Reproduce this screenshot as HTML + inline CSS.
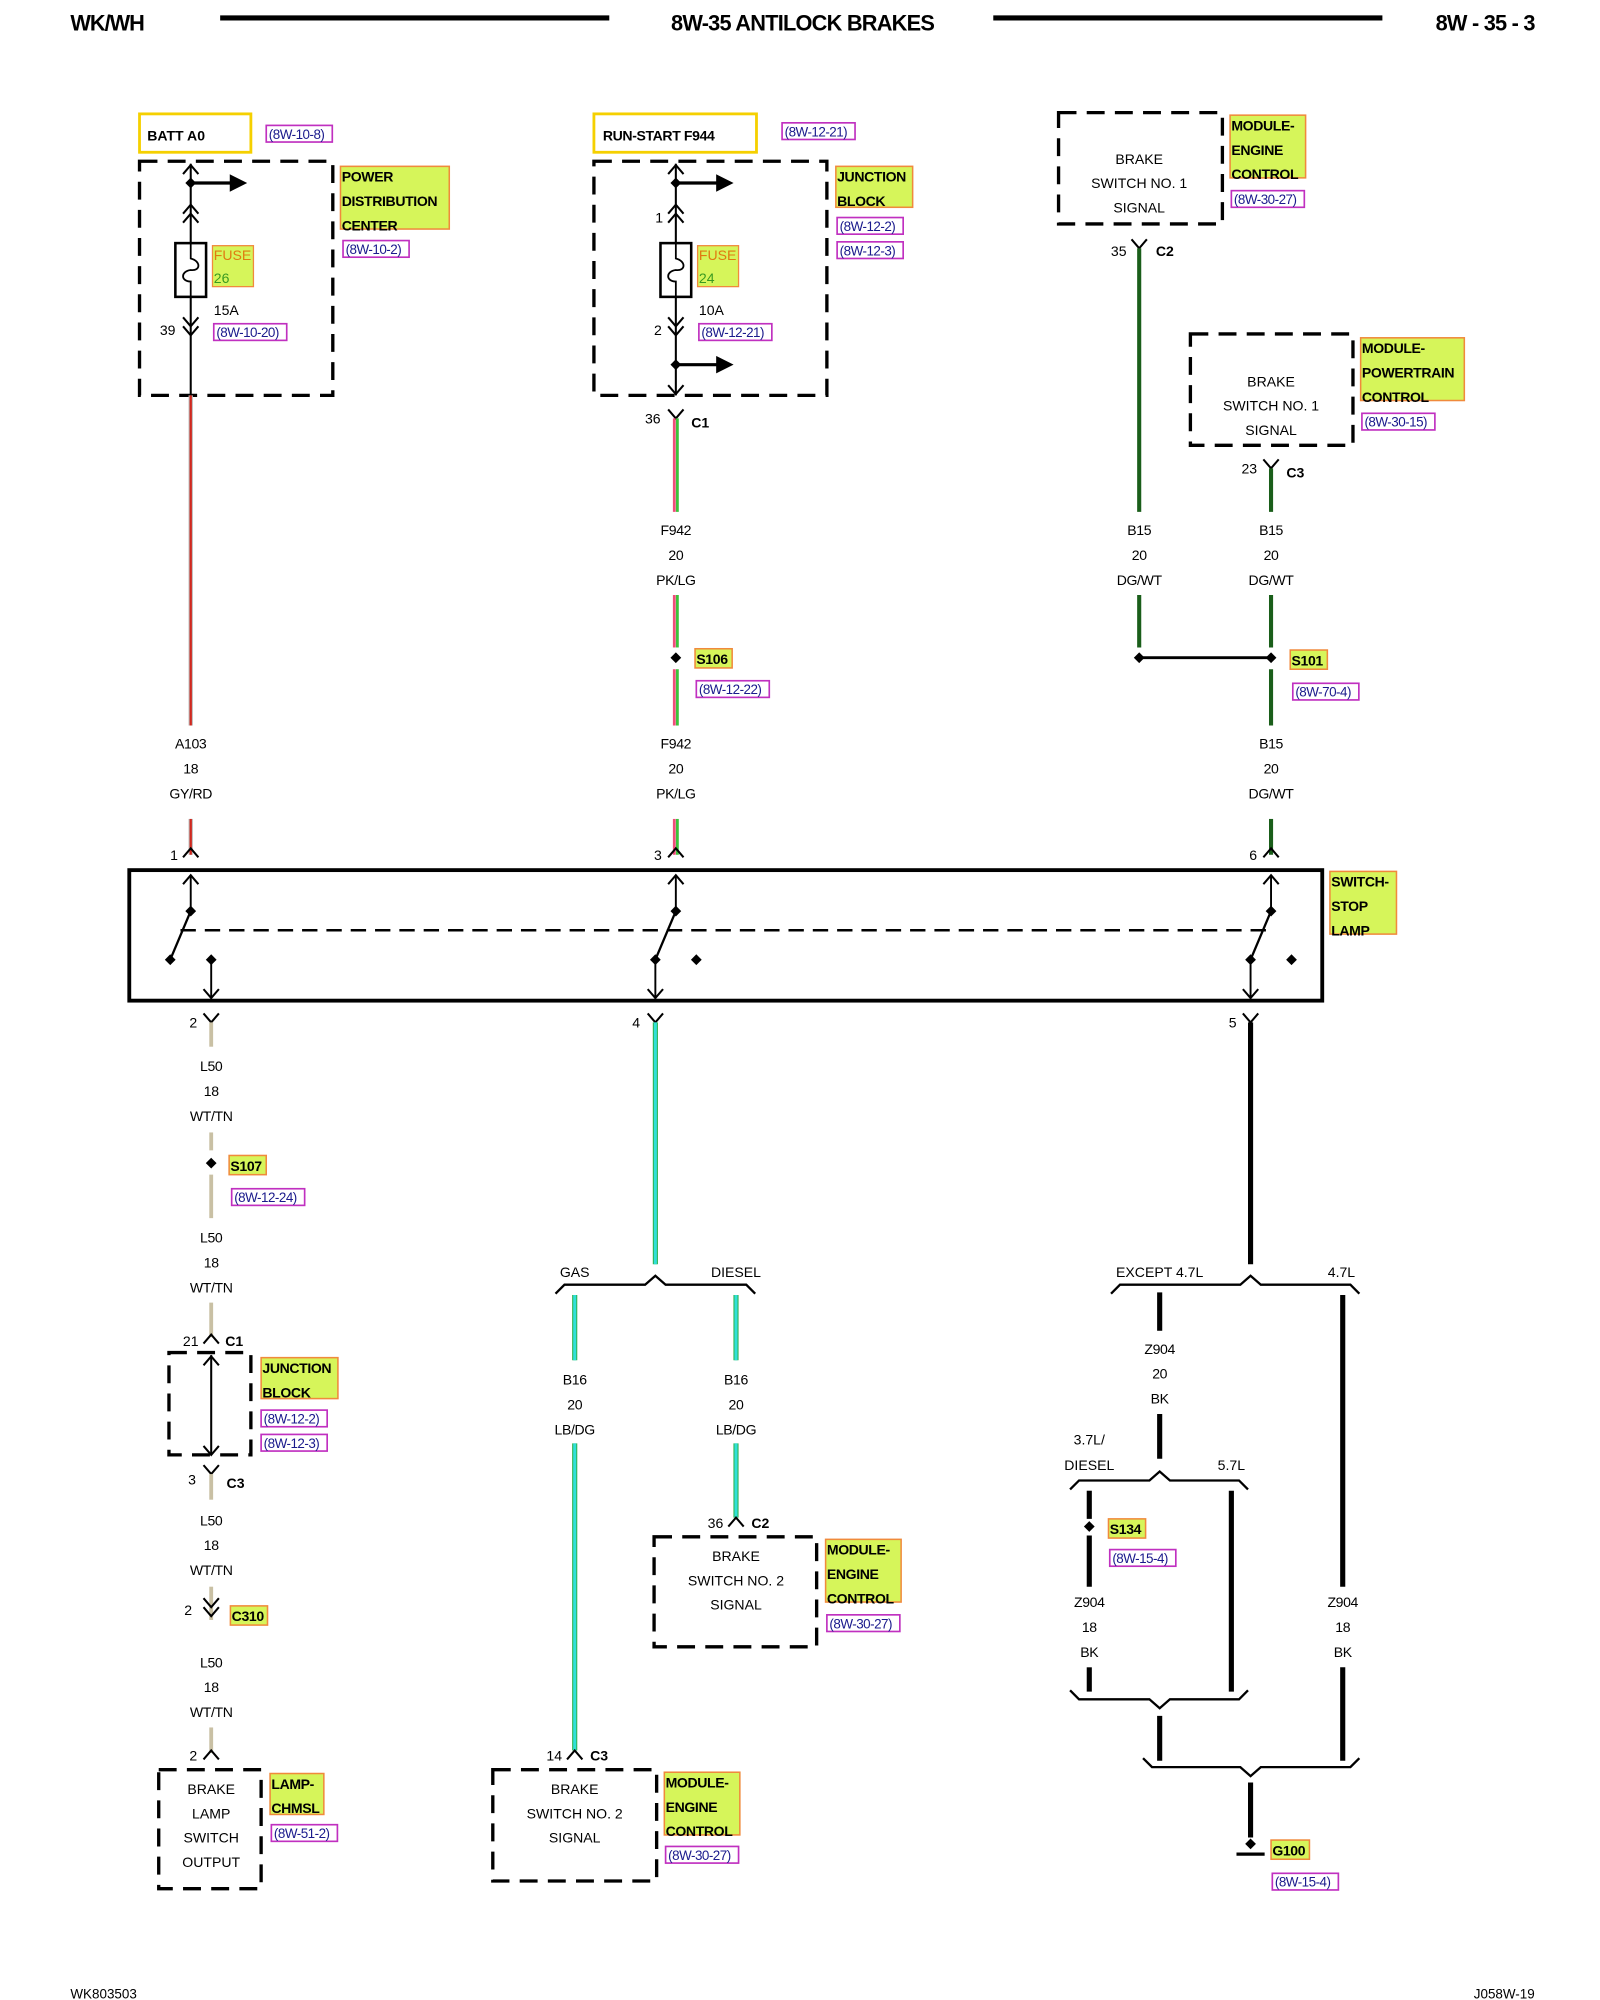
<!DOCTYPE html>
<html><head><meta charset="utf-8"><style>
html,body{margin:0;padding:0;background:#fff;width:1600px;height:2000px;overflow:hidden}
svg{display:block}
text{font-family:"Liberation Sans",sans-serif}
</style></head><body>
<svg id="s" width="1600" height="2000" viewBox="0 0 1250 1563" preserveAspectRatio="none" xmlns="http://www.w3.org/2000/svg"></svg>
<script>
var o='';
function L(x1,y1,x2,y2,c,w,d){o+='<line x1="'+x1+'" y1="'+y1+'" x2="'+x2+'" y2="'+y2+'" stroke="'+(c||'#000')+'" stroke-width="'+(w||1.5)+'"'+(d?' stroke-dasharray="'+d+'"':'')+'/>';}
function T(x,y,s,sz,anc,wt,col,ls){o+='<text x="'+x+'" y="'+y+'" font-size="'+(sz||11)+'" text-anchor="'+(anc||'middle')+'" font-weight="'+(wt||'normal')+'" fill="'+(col||'#000')+'"'+(ls?' letter-spacing="'+ls+'"':'')+'>'+s+'</text>';}
function P(d,c,w,f){o+='<path d="'+d+'" stroke="'+(c||'#000')+'" stroke-width="'+(w||1.5)+'" fill="'+(f||'none')+'"/>';}
function R(x,y,w,h,c,sw,f,d){o+='<rect x="'+x+'" y="'+y+'" width="'+w+'" height="'+h+'" stroke="'+c+'" stroke-width="'+sw+'" fill="'+(f||'none')+'"'+(d?' stroke-dasharray="'+d+'"':'')+'/>';}
function lab(x,y,w,lines){R(x,y,w,lines.length*17-2,'#f08a3c',1.2,'#d6f55a');lines.forEach(function(s,i){T(x+1,y+12+i*19,s,11,'start','bold','#000','-0.3');});}
function ref(x,y,s){var w=s.length*5.4+3;R(x,y,w,13,'#c030c0',1.3,'#fff');T(x+2,y+10.5,s,10.5,'start','normal','#1a1a8c','-0.4');}
function dbox(x1,y1,x2,y2){R(x1,y1,x2-x1,y2-y1,'#000',2.6,'none','14,8');}
function dn(x,y){P('M'+(x-6)+' '+(y-7)+' L'+x+' '+y+' L'+(x+6)+' '+(y-7),'#000',1.6);}
function up(x,y){P('M'+(x-6)+' '+(y+7)+' L'+x+' '+y+' L'+(x+6)+' '+(y+7),'#000',1.6);}
function wlab(x,y,a){a.forEach(function(s,i){T(x,y+i*19.5,s,11,'middle','normal','#000','-0.3');});}
function dot(x,y){P('M'+x+' '+(y-3.5)+' L'+(x+3.5)+' '+y+' L'+x+' '+(y+3.5)+' L'+(x-3.5)+' '+y+'Z','#000',1,'#000');}
function brUp(x1,x2,pk,y){P('M'+x1+' '+(y+7)+' L'+(x1+7)+' '+y+' L'+(pk-8)+' '+y+' L'+pk+' '+(y-7)+' L'+(pk+8)+' '+y+' L'+(x2-7)+' '+y+' L'+x2+' '+(y+7),'#000',1.8);}
function brDn(x1,x2,pk,y){P('M'+x1+' '+(y-7)+' L'+(x1+7)+' '+y+' L'+(pk-8)+' '+y+' L'+pk+' '+(y+7)+' L'+(pk+8)+' '+y+' L'+(x2-7)+' '+y+' L'+x2+' '+(y-7),'#000',1.8);}
function wire(x,y1,y2,kind){
 if(kind=='rd'){L(x,y1,x,y2,'#bbb',3.4);L(x,y1,x,y2,'#d0281e',1.8);}
 else if(kind=='pk'){L(x-1.2,y1,x-1.2,y2,'#ee4d7a',2.2);L(x+1.2,y1,x+1.2,y2,'#3cc23c',2.2);}
 else if(kind=='dg'){L(x,y1,x,y2,'#1a5e1a',3.2);}
 else if(kind=='tn'){L(x,y1,x,y2,'#c9c0a4',3);}
 else if(kind=='lb'){L(x,y1,x,y2,'#2bb04a',4);L(x,y1,x,y2,'#30e0d8',2.4);}
 else {L(x,y1,x,y2,'#000',4);}
}
function arrowR(x,y,x2){L(x,y,x2-10,y,'#000',2.5);P('M'+(x2-12)+' '+(y-6)+' L'+x2+' '+y+' L'+(x2-12)+' '+(y+6)+'Z','#000',1,'#000');dot(x,y);}
function fuse(x,y){R(x-12,y,24,42,'#000',2,'#fff');P('M'+x+' '+y+' L'+x+' '+(y+12)+' C'+(x+8)+' '+(y+14)+' '+(x+8)+' '+(y+22)+' '+x+' '+(y+21)+' C'+(x-8)+' '+(y+22)+' '+(x-8)+' '+(y+30)+' '+x+' '+(y+30)+' L'+x+' '+(y+42),'#000',1.4);}
function fuseLab(x,y,n){R(x,y,32,32,'#f08a3c',1,'#d6f55a');T(x+1,y+11,'FUSE',11,'start','normal','#e07a10');T(x+1,y+29,n,11,'start','normal','#3a9a20');}

// header
T(55,24,'WK/WH',17,'start','bold','#000','-0.8');L(172,14,476,14,'#000',4);T(627,24,'8W-35 ANTILOCK BRAKES',17,'middle','bold','#000','-0.6');L(776,14,1080,14,'#000',4);T(1199,24,'8W - 35 - 3',17,'end','bold','#000','-0.6');
T(55,1562,'WK803503',10.5,'start');T(1199,1562,'J058W-19',10.5,'end');

// LEFT top
R(109,89,87,30,'#f5d000',2.2);T(115,110,'BATT A0',11,'start','bold');ref(208,98,'(8W-10-8)');
dbox(109,126,260,309);
L(149,128,149,309,'#000',1.6);up(149,129);arrowR(149,143,192);up(149,160);up(149,167);fuse(149,190);dn(149,255);dn(149,262);
T(131,262,'39',11,'middle');fuseLab(166,192,'26');T(167,246,'15A',11,'start');ref(167,253,'(8W-10-20)');
lab(266,130,85,['POWER','DISTRIBUTION','CENTER']);ref(268,188,'(8W-10-2)');
wire(149,309,567,'rd');wlab(149,585,['A103','18','GY/RD']);wire(149,640,668,'rd');up(149,663);T(136,672,'1',11);

// MIDDLE top
R(464,89,127,30,'#f5d000',2.2);T(471,110,'RUN-START F944',11,'start','bold','#000','-0.3');ref(611,96,'(8W-12-21)');
dbox(464,126,646,309);
L(528,128,528,309,'#000',1.6);up(528,129);arrowR(528,143,572);up(528,160);up(528,167);T(515,174,'1',11);fuse(528,190);dn(528,255);dn(528,262);T(514,262,'2',11);
fuseLab(545,192,'24');T(546,246,'10A',11,'start');ref(546,253,'(8W-12-21)');arrowR(528,285,572);dn(528,308);
lab(653,130,60,['JUNCTION','BLOCK']);ref(654,170,'(8W-12-2)');ref(654,189,'(8W-12-3)');
dn(528,327);T(510,331,'36',11);T(540,334,'C1',11,'start','bold');
wire(528,327,400,'pk');wlab(528,418,['F942','20','PK/LG']);wire(528,465,506,'pk');dot(528,514);wire(528,523,567,'pk');
lab(543,507,29,['S106']);ref(544,532,'(8W-12-22)');
wlab(528,585,['F942','20','PK/LG']);wire(528,640,668,'pk');up(528,663);T(514,672,'3',11);

// RIGHT top
dbox(827,88,955,175);T(890,128,'BRAKE',11);T(890,147,'SWITCH NO. 1',11);T(890,166,'SIGNAL',11);
lab(961,90,59,['MODULE-','ENGINE','CONTROL']);ref(962,149,'(8W-30-27)');
dn(890,194);T(874,200,'35',11);T(903,200,'C2',11,'start','bold');
wire(890,194,400,'dg');wlab(890,418,['B15','20','DG/WT']);wire(890,465,506,'dg');dot(890,514);L(890,514,993,514,'#000',2.2);
dbox(930,261,1057,348);T(993,302,'BRAKE',11);T(993,321,'SWITCH NO. 1',11);T(993,340,'SIGNAL',11);
lab(1063,264,81,['MODULE-','POWERTRAIN','CONTROL']);ref(1064,323,'(8W-30-15)');
dn(993,366);T(976,370,'23',11);T(1005,373,'C3',11,'start','bold');
wire(993,366,400,'dg');wlab(993,418,['B15','20','DG/WT']);wire(993,465,506,'dg');dot(993,514);wire(993,523,567,'dg');
lab(1008,508,29,['S101']);ref(1010,534,'(8W-70-4)');
wlab(993,585,['B15','20','DG/WT']);wire(993,640,668,'dg');up(993,663);T(979,672,'6',11);

// switch box
R(101,680,932,102,'#000',3,'none');lab(1039,681,52,['SWITCH-','STOP','LAMP']);
L(141,727,990,727,'#000',2,'12,7');
[[149],[528],[993]].forEach(function(a,i){
 var x=a[0];L(x,684,x,712,'#000',1.5);up(x,684);dot(x,712);
 P('M'+x+' '+712+' L'+(x-16)+' '+750,'#000',1.8);dot(x-16,750);
 if(i==0){dot(165,750);L(165,750,165,780,'#000',1.5);dn(165,780);}
 else{dot(x+16,750);L(x-16,750,x-16,780,'#000',1.5);dn(x-16,780);}
});
dn(165,799);T(151,803,'2',11);dn(512,799);T(497,803,'4',11);dn(977,799);T(963,803,'5',11);

// LEFT bottom
wire(165,799,818,'tn');wlab(165,837,['L50','18','WT/TN']);wire(165,885,899,'tn');dot(165,909);wire(165,918,952,'tn');
lab(179,903,29,['S107']);ref(181,929,'(8W-12-24)');
wlab(165,971,['L50','18','WT/TN']);wire(165,1018,1045,'tn');up(165,1043);T(149,1052,'21',11);T(176,1052,'C1',11,'start','bold');
dbox(132,1057,196,1137);L(165,1059,165,1137,'#000',1.6);up(165,1060);dn(165,1137);
lab(204,1061,60,['JUNCTION','BLOCK']);ref(204,1102,'(8W-12-2)');ref(204,1121,'(8W-12-3)');
dn(165,1152);T(150,1160,'3',11);T(177,1163,'C3',11,'start','bold');wire(165,1152,1172,'tn');
wlab(165,1192,['L50','18','WT/TN']);wire(165,1240,1266,'tn');dn(165,1256);dn(165,1263);T(147,1262,'2',11);
lab(180,1255,29,['C310']);
wlab(165,1303,['L50','18','WT/TN']);wire(165,1350,1370,'tn');up(165,1368);T(151,1376,'2',11);
dbox(124,1383,204,1476);T(165,1402,'BRAKE',11);T(165,1421,'LAMP',11);T(165,1440,'SWITCH',11);T(165,1459,'OUTPUT',11);
lab(211,1386,42,['LAMP-','CHMSL']);ref(212,1426,'(8W-51-2)');

// MIDDLE bottom
wire(512,799,988,'lb');brUp(434,590,512,1004);T(449,998,'GAS',11);T(575,998,'DIESEL',11);
wire(449,1012,1063,'lb');wlab(449,1082,['B16','20','LB/DG']);wire(449,1128,1368,'lb');up(449,1368);T(433,1376,'14',11);T(461,1376,'C3',11,'start','bold');
dbox(385,1383,513,1470);T(449,1402,'BRAKE',11);T(449,1421,'SWITCH NO. 2',11);T(449,1440,'SIGNAL',11);
lab(519,1385,59,['MODULE-','ENGINE','CONTROL']);ref(520,1443,'(8W-30-27)');
wire(575,1012,1063,'lb');wlab(575,1082,['B16','20','LB/DG']);wire(575,1128,1186,'lb');up(575,1186);T(559,1194,'36',11);T(587,1194,'C2',11,'start','bold');
dbox(511,1201,638,1287);T(575,1220,'BRAKE',11);T(575,1239,'SWITCH NO. 2',11);T(575,1258,'SIGNAL',11);
lab(645,1203,59,['MODULE-','ENGINE','CONTROL']);ref(646,1262,'(8W-30-27)');

// RIGHT bottom
wire(977,799,988,'bk');brUp(868,1062,977,1004);T(906,998,'EXCEPT 4.7L',11);T(1048,998,'4.7L',11);
wire(906,1010,1040,'bk');wlab(906,1058,['Z904','20','BK']);wire(906,1105,1140,'bk');
T(851,1129,'3.7L/',11);T(851,1149,'DIESEL',11);T(962,1149,'5.7L',11);brUp(836,975,906,1157);
wire(851,1165,1187,'bk');dot(851,1193);wire(851,1200,1240,'bk');lab(866,1187,29,['S134']);ref(867,1211,'(8W-15-4)');
wlab(851,1256,['Z904','18','BK']);wire(851,1303,1322,'bk');wire(962,1165,1322,'bk');
brDn(836,975,906,1328);wire(906,1341,1376,'bk');
wire(1049,1012,1240,'bk');wlab(1049,1256,['Z904','18','BK']);wire(1049,1303,1376,'bk');
brDn(893,1062,977,1381);wire(977,1393,1436,'bk');dot(977,1441);L(966,1449,988,1449,'#000',2.6);
lab(993,1438,30,['G100']);ref(994,1464,'(8W-15-4)');
document.getElementById('s').innerHTML=o;
</script>
</body></html>
